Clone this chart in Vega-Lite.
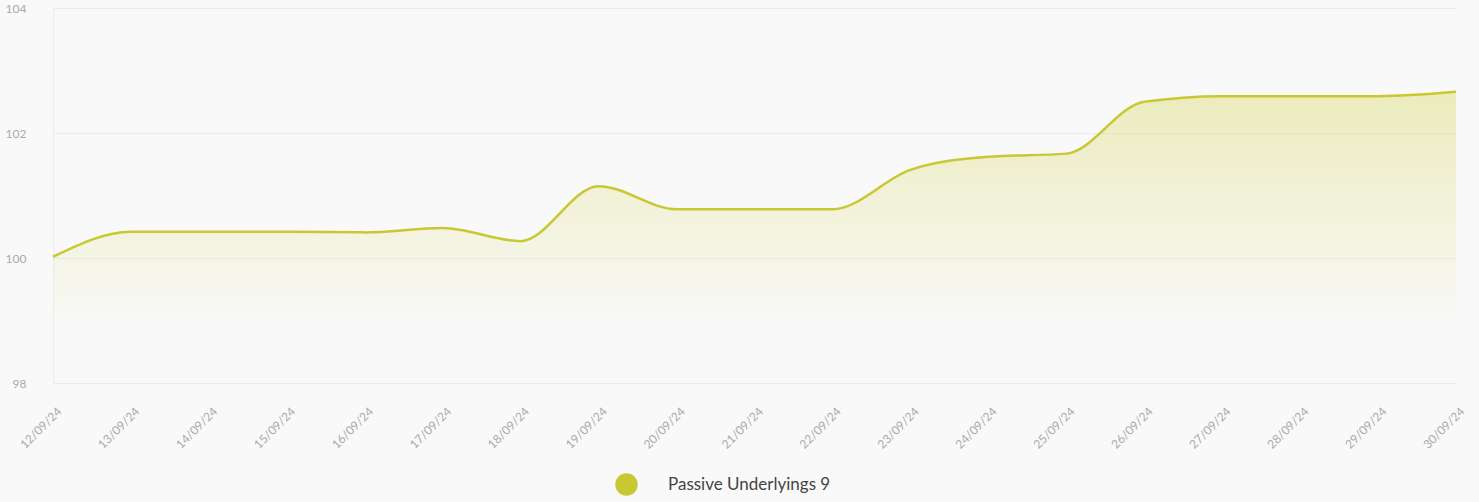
{
  "$schema": "https://vega.github.io/schema/vega-lite/v6.json",
  "width": 1403,
  "height": 375,
  "autosize": {"type": "none"},
  "padding": {"left": 53, "top": 8, "right": 23, "bottom": 119},
  "background": "#f9f9f9",
  "config": {"view": {"stroke": null}},
  "data": {
    "values": [
      {"date": "12/09/24", "value": 100.02, "series": "Passive Underlyings 9"},
      {"date": "13/09/24", "value": 100.42, "series": "Passive Underlyings 9"},
      {"date": "14/09/24", "value": 100.42, "series": "Passive Underlyings 9"},
      {"date": "15/09/24", "value": 100.42, "series": "Passive Underlyings 9"},
      {"date": "16/09/24", "value": 100.41, "series": "Passive Underlyings 9"},
      {"date": "17/09/24", "value": 100.48, "series": "Passive Underlyings 9"},
      {"date": "18/09/24", "value": 100.27, "series": "Passive Underlyings 9"},
      {"date": "19/09/24", "value": 101.15, "series": "Passive Underlyings 9"},
      {"date": "20/09/24", "value": 100.78, "series": "Passive Underlyings 9"},
      {"date": "21/09/24", "value": 100.78, "series": "Passive Underlyings 9"},
      {"date": "22/09/24", "value": 100.78, "series": "Passive Underlyings 9"},
      {"date": "23/09/24", "value": 101.41, "series": "Passive Underlyings 9"},
      {"date": "24/09/24", "value": 101.62, "series": "Passive Underlyings 9"},
      {"date": "25/09/24", "value": 101.67, "series": "Passive Underlyings 9"},
      {"date": "26/09/24", "value": 102.5, "series": "Passive Underlyings 9"},
      {"date": "27/09/24", "value": 102.59, "series": "Passive Underlyings 9"},
      {"date": "28/09/24", "value": 102.59, "series": "Passive Underlyings 9"},
      {"date": "29/09/24", "value": 102.59, "series": "Passive Underlyings 9"},
      {"date": "30/09/24", "value": 102.66, "series": "Passive Underlyings 9"}
    ]
  },
  "encoding": {
    "x": {
      "field": "date",
      "type": "ordinal",
      "sort": null,
      "scale": {"type": "point", "padding": 0},
      "axis": {
        "title": null,
        "labelAngle": -45,
        "labelAlign": "right",
        "labelBaseline": "middle",
        "labelColor": "#aaaaaa",
        "labelFont": "Lato",
        "labelFontSize": 12,
        "labelPadding": 26,
        "labelOffset": 6,
        "ticks": false,
        "domain": true,
        "domainColor": "#ececec",
        "grid": false
      }
    },
    "y": {
      "field": "value",
      "type": "quantitative",
      "scale": {"domain": [98, 104], "zero": false, "nice": false},
      "axis": {
        "title": null,
        "values": [98, 100, 102, 104],
        "labelColor": "#aaaaaa",
        "labelFont": "Lato",
        "labelFontSize": 12,
        "labelPadding": 27,
        "ticks": false,
        "domainColor": "#ececec",
        "gridColor": "#ececec",
        "labelBaseline": "middle"
      }
    }
  },
  "layer": [
    {
      "mark": {
        "type": "area",
        "interpolate": "monotone",
        "fill": {
          "x1": 0, "y1": 0, "x2": 0, "y2": 1,
          "gradient": "linear",
          "stops": [
            {"offset": 0, "color": "rgba(204,204,51,0.3)"},
            {"offset": 0.83, "color": "rgba(204,204,51,0)"}
          ]
        }
      },
      "encoding": {"y2": {"datum": 98}}
    },
    {
      "mark": {"type": "line", "interpolate": "monotone", "strokeWidth": 2.5},
      "encoding": {
        "color": {
          "field": "series",
          "type": "nominal",
          "scale": {"range": ["#c9c833"]},
          "legend": {
            "title": null,
            "orient": "none",
            "legendX": 562,
            "legendY": 465,
            "symbolType": "circle",
            "symbolSize": 500,
            "symbolFillColor": "#c9c833",
            "symbolStrokeWidth": 0,
            "labelFont": "Lato",
            "labelFontSize": 17,
            "labelColor": "#444444",
            "labelOffset": 30,
            "labelLimit": 400
          }
        }
      }
    }
  ]
}
